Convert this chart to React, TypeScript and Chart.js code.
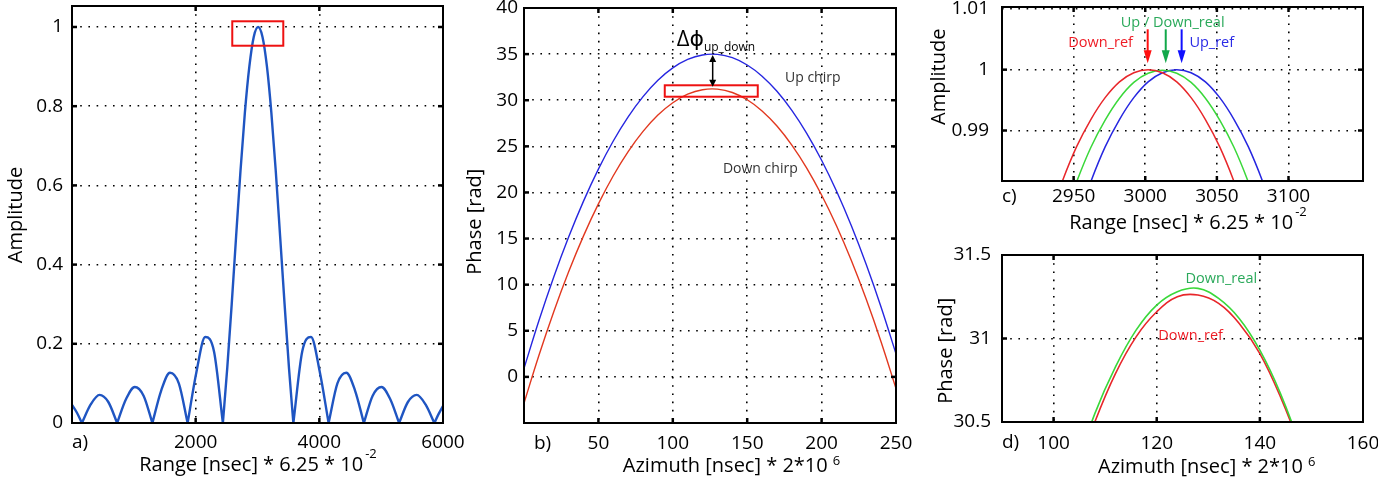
import React, { useEffect, useRef } from 'react';
import { Chart, registerables } from 'chart.js';

Chart.register(...registerables);

const FONT = '"Open Sans", "DejaVu Sans", Arial, sans-serif';
const TICK_SIZE = 19;
const TITLE_SIZE = 20;

// ---------------- a) compressed range profile (lobes separated by null) ----------------
const rangeA = [0, 80, 160, 160, 160, 302.5, 445, 587.5, 730, 730, 730, 872.5, 1015, 1157.5, 1300, 1300, 1300, 1442.5, 1585, 1727.5, 1870, 1870, 1870, 2012.5, 2155, 2297.5, 2440, 2440, 2440, 2511, 2583, 2654, 2725, 2796, 2868, 2939, 3010, 3081, 3153, 3224, 3295, 3366, 3438, 3509, 3580, 3580, 3580, 3722.5, 3865, 4007.5, 4150, 4150, 4150, 4292.5, 4435, 4577.5, 4720, 4720, 4720, 4862.5, 5005, 5147.5, 5290, 5290, 5290, 5432.5, 5575, 5717.5, 5860, 5860, 5860, 5930, 6000];
const ampA = [0.046, 0.026, 0, null, 0, 0.047, 0.071, 0.053, 0, null, 0, 0.060, 0.091, 0.069, 0, null, 0, 0.082, 0.127, 0.100, 0, null, 0, 0.129, 0.217, 0.180, 0, null, 0, 0.139, 0.300, 0.471, 0.637, 0.784, 0.900, 0.975, 1.0, 0.975, 0.900, 0.784, 0.637, 0.471, 0.300, 0.139, 0, null, 0, 0.180, 0.217, 0.129, 0, null, 0, 0.100, 0.127, 0.082, 0, null, 0, 0.069, 0.091, 0.060, 0, null, 0, 0.053, 0.071, 0.047, 0, null, 0, 0.023, 0.043];
const xTicksA = [2000, 4000, 6000];
const yTicksA = [0, 0.2, 0.4, 0.6, 0.8, 1];

// ---------------- b) azimuth phase ----------------
const azimuthB = [0, 10, 20, 30, 40, 50, 60, 70, 80, 90, 100, 110, 120, 130, 140, 150, 160, 170, 180, 190, 200, 210, 220, 230, 240, 250];
const upChirpB = [0.92, 6.09, 10.84, 15.16, 19.06, 22.53, 25.58, 28.20, 30.39, 32.16, 33.50, 34.42, 34.91, 34.97, 34.61, 33.82, 32.61, 30.97, 28.90, 26.41, 23.49, 20.15, 16.38, 12.18, 7.56, 2.51];
const downChirpB = [-2.85, 2.32, 7.07, 11.39, 15.29, 18.76, 21.81, 24.43, 26.62, 28.39, 29.73, 30.65, 31.14, 31.20, 30.84, 30.05, 28.84, 27.20, 25.13, 22.64, 19.72, 16.38, 12.61, 8.41, 3.79, -1.26];
const xTicksB = [50, 100, 150, 200, 250];
const yTicksB = [0, 5, 10, 15, 20, 25, 30, 35, 40];

// ---------------- c) zoom of range peak ----------------
const rangeDownRefC = [2932, 2942, 2952, 2962, 2972, 2982, 2992, 3002, 3012, 3022, 3032, 3042, 3052, 3062, 3072];
const ampDownRefC = [0.9750, 0.9816, 0.9873, 0.9918, 0.9954, 0.9980, 0.9995, 1.0000, 0.9995, 0.9980, 0.9954, 0.9918, 0.9873, 0.9816, 0.9750];
const rangeDownRealC = [2942, 2952, 2962, 2972, 2982, 2992, 3002, 3012, 3022, 3032, 3042, 3052, 3062, 3072, 3082];
const ampDownRealC = [0.9749, 0.9815, 0.9872, 0.9917, 0.9953, 0.9979, 0.9994, 0.9999, 0.9994, 0.9979, 0.9953, 0.9917, 0.9872, 0.9815, 0.9749];
const rangeUpRefC = [2952, 2962, 2972, 2982, 2992, 3002, 3012, 3022, 3032, 3042, 3052, 3062, 3072, 3082, 3092];
const ampUpRefC = [0.9750, 0.9816, 0.9873, 0.9918, 0.9954, 0.9980, 0.9995, 1.0000, 0.9995, 0.9980, 0.9954, 0.9918, 0.9873, 0.9816, 0.9750];
const xTicksC = [2950, 3000, 3050, 3100];
const yTicksC = [0.99, 1, 1.01];

// ---------------- d) zoom of phase peak ----------------
const azimuthD = [104, 108, 112, 116, 120, 124, 128, 132, 136, 140, 144, 148, 152];
const phaseDownRealD = [30.19, 30.55, 30.83, 31.05, 31.20, 31.28, 31.30, 31.24, 31.12, 30.93, 30.67, 30.34, 29.94];
const phaseDownRefD = [30.15, 30.50, 30.79, 31.01, 31.16, 31.25, 31.26, 31.21, 31.09, 30.91, 30.65, 30.33, 29.94];
const xTicksD = [100, 120, 140, 160];
const yTicksD = [30.5, 31, 31.5];

// ---------------- types ----------------
type Title = { text: string; sup?: string; supSize?: number; supRaise?: number; gap?: number; cx: number; cy: number; rotate?: boolean };
type Txt = { text: string; x: number; y: number; color: string; size: number; sub?: string; subSize?: number; subDy?: number };
type Rect = { x1: number; x2: number; y1: number; y2: number; color: string };
type Arrow = { x: number; from: number; to: number; color: string; both?: boolean; headLen: number; headW: number; lw: number };
type Series = { xs: number[]; ys: (number | null)[]; color: string; width: number; monotone?: boolean };
type Panel = {
  left: number; top: number; w: number; h: number;
  padTop: number; padRight: number; yWidth: number; xHeight: number;
  xMin: number; xMax: number; xTicks: number[];
  yMin: number; yMax: number; yTicks: number[];
  xTickPad: number; yTickPad: number;
  series: Series[];
  label: { text: string; dx: number; dy: number };
  titles: Title[];
  rects?: Rect[]; arrows?: Arrow[]; texts?: Txt[];
};

const RED = '#e8262a';
const GREEN = '#3ad83a';
const BLUE = '#2626e0';

const panels: Panel[] = [
  {
    left: 0, top: 0, w: 470, h: 479, padTop: 6, padRight: 27, yWidth: 72, xHeight: 56,
    xMin: 0, xMax: 6000, xTicks: xTicksA, yMin: 0, yMax: 1.053, yTicks: yTicksA,
    xTickPad: 8, yTickPad: 9,
    series: [{ xs: rangeA, ys: ampA, color: '#1f55c2', width: 2.4, monotone: true }],
    label: { text: 'a)', dx: 0, dy: 20 },
    titles: [
      { text: 'Range [nsec] * 6.25 * 10', sup: '-2', supSize: 13, supRaise: 11, gap: 2, cx: 258, cy: 465 },
      { text: 'Amplitude', cx: 16, cy: 215, rotate: true },
    ],
    rects: [{ x1: 2592, x2: 3417, y1: 0.9527, y2: 1.0144, color: '#ee1111' }],
  },
  {
    left: 460, top: 0, w: 460, h: 479, padTop: 8, padRight: 24, yWidth: 64, xHeight: 56,
    xMin: 0, xMax: 250, xTicks: xTicksB, yMin: -5, yMax: 40, yTicks: yTicksB,
    xTickPad: 9, yTickPad: 6,
    series: [
      { xs: azimuthB, ys: upChirpB, color: BLUE, width: 1.4 },
      { xs: azimuthB, ys: downChirpB, color: '#e2381f', width: 1.4 },
    ],
    label: { text: 'b)', dx: 10, dy: 21 },
    titles: [
      { text: 'Azimuth [nsec] * 2*10', sup: '6', supSize: 13, supRaise: 5, gap: 5, cx: 731.5, cy: 466.5 },
      { text: 'Phase [rad]', cx: 475, cy: 221.7, rotate: true },
    ],
    rects: [{ x1: 94.6, x2: 157.1, y1: 30.38, y2: 31.62, color: '#ee1111' }],
    arrows: [{ x: 126.8, from: 34.9, to: 31.47, color: '#000', both: true, headLen: 7, headW: 7, lw: 1.5 }],
    texts: [
      { text: 'Δϕ', x: 102.6, y: 36.6, color: '#000', size: 22, sub: 'up_down', subSize: 12, subDy: 8 },
      { text: 'Up chirp', x: 175.4, y: 32.38, color: '#333', size: 14 },
      { text: 'Down chirp', x: 133.7, y: 22.54, color: '#333', size: 14 },
    ],
  },
  {
    left: 920, top: 0, w: 458, h: 240, padTop: 7, padRight: 15, yWidth: 82, xHeight: 59,
    xMin: 2900, xMax: 3152, xTicks: xTicksC, yMin: 0.9817, yMax: 1.0103, yTicks: yTicksC,
    xTickPad: 4, yTickPad: 13,
    series: [
      { xs: rangeDownRefC, ys: ampDownRefC, color: RED, width: 1.5 },
      { xs: rangeDownRealC, ys: ampDownRealC, color: GREEN, width: 1.5 },
      { xs: rangeUpRefC, ys: ampUpRefC, color: BLUE, width: 1.5 },
    ],
    label: { text: 'c)', dx: 0, dy: 16 },
    titles: [
      { text: 'Range [nsec] * 6.25 * 10', sup: '-2', supSize: 13, supRaise: 11, gap: 2, cx: 1188, cy: 223 },
      { text: 'Amplitude', cx: 939, cy: 76.7, rotate: true },
    ],
    arrows: [
      { x: 3001.7, from: 1.00663, to: 1.00105, color: '#ff1010', headLen: 13, headW: 8, lw: 2 },
      { x: 3014.3, from: 1.00663, to: 1.00105, color: '#12a84a', headLen: 13, headW: 8, lw: 2 },
      { x: 3025.4, from: 1.00663, to: 1.00105, color: '#1010ff', headLen: 13, headW: 8, lw: 2 },
    ],
    texts: [
      { text: 'Down_ref', x: 2946.3, y: 1.00443, color: '#ee1c25', size: 14.5 },
      { text: 'Up / Down_real', x: 2982.9, y: 1.00772, color: '#2aa95a', size: 14.5 },
      { text: 'Up_ref', x: 3030.8, y: 1.00443, color: '#2a2ae6', size: 14.5 },
    ],
  },
  {
    left: 920, top: 240, w: 458, h: 239, padTop: 15, padRight: 15, yWidth: 82, xHeight: 57,
    xMin: 90, xMax: 160, xTicks: xTicksD, yMin: 30.5, yMax: 31.5, yTicks: yTicksD,
    xTickPad: 10, yTickPad: 11,
    series: [
      { xs: azimuthD, ys: phaseDownRealD, color: GREEN, width: 1.6 },
      { xs: azimuthD, ys: phaseDownRefD, color: RED, width: 1.6 },
    ],
    label: { text: 'd)', dx: 0, dy: 21 },
    titles: [
      { text: 'Azimuth [nsec] * 2*10', sup: '6', supSize: 13, supRaise: 5, gap: 5, cx: 1206.7, cy: 467.5 },
      { text: 'Phase [rad]', cx: 946.7, cy: 350.8, rotate: true },
    ],
    texts: [
      { text: 'Down_real', x: 125.6, y: 31.36, color: '#2aa95a', size: 14.5 },
      { text: 'Down_ref', x: 120.3, y: 31.014, color: '#ee1c25', size: 14.5 },
    ],
  },
];

function makeDeco(p: Panel) {
  return {
    id: 'deco',
    afterDraw(chart: any) {
      const { ctx, chartArea: a, scales } = chart;
      const xs = scales.x;
      const ys = scales.y;
      const X = (v: number) => xs.getPixelForValue(v);
      const Y = (v: number) => ys.getPixelForValue(v);
      const line = (x1: number, y1: number, x2: number, y2: number) => {
        ctx.beginPath(); ctx.moveTo(x1, y1); ctx.lineTo(x2, y2); ctx.stroke();
      };
      ctx.save();
      // rectangles
      for (const r of p.rects ?? []) {
        ctx.strokeStyle = r.color; ctx.lineWidth = 2;
        ctx.strokeRect(X(r.x1), Y(r.y2), X(r.x2) - X(r.x1), Y(r.y1) - Y(r.y2));
      }
      // arrows
      for (const ar of p.arrows ?? []) {
        const x = X(ar.x); const y1 = Y(ar.from); const y2 = Y(ar.to);
        const dir = Math.sign(y2 - y1);
        ctx.strokeStyle = ar.color; ctx.fillStyle = ar.color; ctx.lineWidth = ar.lw;
        const s1 = ar.both ? y1 + dir * ar.headLen * 0.8 : y1;
        const s2 = y2 - dir * ar.headLen * 0.8;
        line(x, s1, x, s2);
        const head = (tip: number, d: number) => {
          ctx.beginPath(); ctx.moveTo(x, tip);
          ctx.lineTo(x - ar.headW / 2, tip - d * ar.headLen);
          ctx.lineTo(x + ar.headW / 2, tip - d * ar.headLen);
          ctx.closePath(); ctx.fill();
        };
        head(y2, dir);
        if (ar.both) head(y1, -dir);
      }
      // frame
      ctx.strokeStyle = '#000'; ctx.lineWidth = 2;
      ctx.strokeRect(a.left, a.top, a.right - a.left, a.bottom - a.top);
      // inward tick marks
      ctx.lineWidth = 2.5;
      for (const v of p.xTicks) {
        const px = X(v);
        if (px < a.left + 2 || px > a.right - 2) continue;
        line(px, a.bottom, px, a.bottom - 5); line(px, a.top, px, a.top + 5);
      }
      for (const v of p.yTicks) {
        const py = Y(v);
        if (py < a.top + 2 || py > a.bottom - 2) continue;
        line(a.left, py, a.left + 5, py); line(a.right, py, a.right - 5, py);
      }
      // annotation texts
      ctx.textBaseline = 'middle'; ctx.textAlign = 'left';
      for (const t of p.texts ?? []) {
        ctx.fillStyle = t.color;
        ctx.font = `${t.size}px ${FONT}`;
        const x = X(t.x); const y = Y(t.y);
        ctx.fillText(t.text, x, y);
        if (t.sub) {
          const w = ctx.measureText(t.text).width;
          ctx.font = `${t.subSize}px ${FONT}`;
          ctx.fillText(t.sub, x + w, y + (t.subDy ?? 0));
        }
      }
      // panel label
      ctx.fillStyle = '#000';
      ctx.font = `${TICK_SIZE}px ${FONT}`;
      ctx.fillText(p.label.text, a.left + p.label.dx, a.bottom + p.label.dy);
      // axis titles
      for (const tt of p.titles) {
        ctx.save();
        const main = `${TITLE_SIZE}px ${FONT}`;
        ctx.font = main;
        const w1 = ctx.measureText(tt.text).width;
        let w2 = 0;
        const supFont = `${tt.supSize ?? 13}px ${FONT}`;
        if (tt.sup) { ctx.font = supFont; w2 = ctx.measureText(tt.sup).width + (tt.gap ?? 2); }
        const total = w1 + w2;
        ctx.translate(tt.cx - p.left, tt.cy - p.top);
        if (tt.rotate) ctx.rotate(-Math.PI / 2);
        ctx.textAlign = 'left'; ctx.textBaseline = 'middle'; ctx.fillStyle = '#000';
        ctx.font = main;
        ctx.fillText(tt.text, -total / 2, 0);
        if (tt.sup) {
          ctx.font = supFont;
          ctx.fillText(tt.sup, -total / 2 + w1 + (tt.gap ?? 2), -(tt.supRaise ?? 9));
        }
        ctx.restore();
      }
      ctx.restore();
    },
  };
}

function PanelChart({ p }: { p: Panel }) {
  const ref = useRef<HTMLCanvasElement>(null);
  useEffect(() => {
    const canvas = ref.current;
    if (!canvas) return;
    const tickFont = { family: FONT, size: TICK_SIZE };
    const chart = new Chart(canvas, {
      type: 'line',
      data: {
        datasets: p.series.map((s) => ({
          data: s.xs.map((x, i) => ({ x, y: s.ys[i] })),
          borderColor: s.color,
          borderWidth: s.width,
          pointRadius: 0,
          fill: false,
          cubicInterpolationMode: s.monotone ? 'monotone' : 'default',
          tension: 0.4,
          spanGaps: false,
        })),
      } as any,
      options: {
        animation: false,
        responsive: false,
        events: [],
        layout: { padding: { top: p.padTop, right: p.padRight, left: 0, bottom: 0 } },
        plugins: { legend: { display: false }, tooltip: { enabled: false }, title: { display: false } },
        scales: {
          x: {
            type: 'linear', min: p.xMin, max: p.xMax,
            afterBuildTicks: (s: any) => { s.ticks = p.xTicks.map((v) => ({ value: v })); },
            afterFit: (s: any) => { s.height = p.xHeight; s.paddingLeft = 0; s.paddingRight = 0; },
            ticks: { callback: (v: any) => String(v), padding: p.xTickPad, font: tickFont, color: '#000', maxRotation: 0, minRotation: 0, autoSkip: false },
            grid: { color: '#000', lineWidth: 1.6, drawTicks: false },
            border: { display: false, dash: [1.6, 6.6] },
          },
          y: {
            type: 'linear', min: p.yMin, max: p.yMax,
            afterBuildTicks: (s: any) => { s.ticks = p.yTicks.map((v) => ({ value: v })); },
            afterFit: (s: any) => { s.width = p.yWidth; s.paddingTop = 0; s.paddingBottom = 0; },
            ticks: { callback: (v: any) => String(v), padding: p.yTickPad, font: tickFont, color: '#000', autoSkip: false },
            grid: { color: '#000', lineWidth: 1.6, drawTicks: false },
            border: { display: false, dash: [1.6, 6.6] },
          },
        },
      } as any,
      plugins: [makeDeco(p)],
    });
    return () => chart.destroy();
  }, [p]);
  return (
    <canvas
      ref={ref}
      width={p.w}
      height={p.h}
      style={{ position: 'absolute', left: p.left, top: p.top, width: p.w, height: p.h }}
    />
  );
}

export default function App() {
  return (
    <div style={{ position: 'absolute', left: 0, top: 0, width: 1378, height: 479, background: '#fff', overflow: 'hidden' }}>
      {panels.map((p, i) => (
        <PanelChart key={i} p={p} />
      ))}
    </div>
  );
}
